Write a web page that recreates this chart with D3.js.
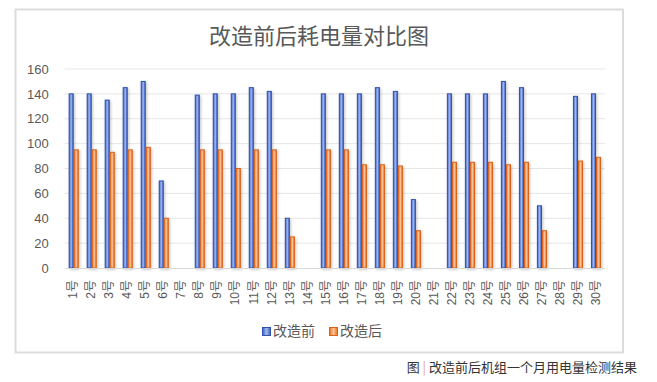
<!DOCTYPE html>
<html>
<head>
<meta charset="utf-8">
<script src="https://cdn.jsdelivr.net/npm/d3@7"></script>
<style>
  body { margin: 0; background: #fff; }
  svg { display: block; }
  text { font-family: "Liberation Sans", "Noto Sans CJK SC", sans-serif; }
</style>
</head>
<body>
<div id="chart"></div>
<script>
let svgWidth = 657;
let svgHeight = 382;

// data
let days = d3.range(1, 31).map(d => d + '号');
let before = [140, 140, 135, 145, 150, 70, 0, 139, 140, 140, 145, 142, 40, 0, 140,
              140, 140, 145, 142, 55, 0, 140, 140, 140, 150, 145, 50, 0, 138, 140];
let after = [95, 95, 93, 95, 97, 40, 0, 95, 95, 80, 95, 95, 25, 0, 95,
             95, 83, 83, 82, 30, 0, 85, 85, 85, 83, 85, 30, 0, 86, 89];
let seriesNames = ['改造前', '改造后'];
let yTicks = [0, 20, 40, 60, 80, 100, 120, 140, 160];

let margin = { top: 69, right: 52, bottom: 114, left: 64.7 };
let width = 605 - margin.left;
let height = 268 - margin.top;

let svg = d3.select('#chart')
  .append('svg')
  .attr('width', svgWidth)
  .attr('height', svgHeight);

// gradients + soft shadow
let defs = svg.append('defs');
let grads = [
  { id: 'gBlue', edge: '#3a5fc4', mid: '#a3b8ea' },
  { id: 'gOrange', edge: '#ec6f1c', mid: '#fbc49a' }
];
grads.forEach(g => {
  let lg = defs.append('linearGradient').attr('id', g.id)
    .attr('x1', '0%').attr('x2', '100%').attr('y1', '0%').attr('y2', '0%');
  lg.append('stop').attr('offset', '0%').attr('stop-color', g.edge);
  lg.append('stop').attr('offset', '50%').attr('stop-color', g.mid);
  lg.append('stop').attr('offset', '100%').attr('stop-color', g.edge);
});
let filt = defs.append('filter').attr('id', 'shadow')
  .attr('x', '-100%').attr('y', '-10%').attr('width', '300%').attr('height', '120%');
filt.append('feGaussianBlur').attr('in', 'SourceAlpha').attr('stdDeviation', 1.5).attr('result', 'b');
filt.append('feOffset').attr('in', 'b').attr('dx', 0.5).attr('dy', 0.5).attr('result', 'o');
filt.append('feComponentTransfer').attr('in', 'o').attr('result', 's')
  .append('feFuncA').attr('type', 'linear').attr('slope', 0.25);
let fm = filt.append('feMerge');
fm.append('feMergeNode').attr('in', 's');
fm.append('feMergeNode').attr('in', 'SourceGraphic');

// frame
svg.append('rect')
  .attr('x', 15.5).attr('y', 9.5)
  .attr('width', 607.5).attr('height', 343)
  .attr('fill', '#fff')
  .attr('stroke', '#dcdcdc')
  .attr('stroke-width', 2);

svg.append('text')
  .attr('x', 319)
  .attr('y', 44)
  .attr('text-anchor', 'middle')
  .attr('font-size', 22)
  .attr('fill', '#595959')
  .style('font-family', '"Noto Sans CJK SC", sans-serif')
  .text('改造前后耗电量对比图');

let chartGroup = svg.append('g')
  .attr('transform', `translate(${margin.left}, ${margin.top})`);

let x0 = d3.scaleBand()
  .domain(days)
  .range([0, width])
  .paddingInner(0.44)
  .paddingOuter(0.22);

let x1 = d3.scaleBand()
  .domain(seriesNames)
  .range([0, x0.bandwidth()]);

let y = d3.scaleLinear()
  .domain([0, 160])
  .range([height, 0]);

// grid
chartGroup.append('g')
  .selectAll('line')
  .data(yTicks.slice(1))
  .enter()
  .append('line')
  .attr('x1', 0).attr('x2', width)
  .attr('y1', d => y(d)).attr('y2', d => y(d))
  .attr('stroke', '#e6e6e6')
  .attr('stroke-width', 1);

// y axis labels
let leftAxis = d3.axisLeft(y).tickValues(yTicks).tickSize(0).tickPadding(16);
chartGroup.append('g')
  .call(leftAxis)
  .call(g => g.select('.domain').remove())
  .call(g => g.selectAll('text').attr('font-size', 13).attr('fill', '#595959')
    .style('font-family', '"Liberation Sans", sans-serif'));

// bars
let rows = days.map((d, i) => ({ day: d, vals: [before[i], after[i]] }));
let colors = ['url(#gBlue)', 'url(#gOrange)'];
let strokes = ['#2f52b0', '#d9621a'];

let dayGroups = chartGroup.selectAll('.day')
  .data(rows)
  .enter()
  .append('g')
  .attr('transform', d => `translate(${x0(d.day)},0)`);

dayGroups.selectAll('rect')
  .data(d => d.vals.map((v, k) => ({ key: seriesNames[k], k: k, v: v })).filter(e => e.v > 0))
  .enter()
  .append('rect')
  .attr('x', d => x1(d.key) + 0.5)
  .attr('y', d => y(d.v))
  .attr('width', x1.bandwidth() - 1)
  .attr('height', d => height - y(d.v))
  .attr('fill', d => colors[d.k])
  .attr('stroke', d => strokes[d.k])
  .attr('stroke-width', 1)
  .attr('filter', 'url(#shadow)');

// baseline
chartGroup.append('line')
  .attr('x1', 0).attr('x2', width)
  .attr('y1', height + 0.5).attr('y2', height + 0.5)
  .attr('stroke', '#d9d9d9');

// x labels, rotated
let bottomAxis = d3.axisBottom(x0).tickSize(0).tickPadding(0);
chartGroup.append('g')
  .attr('transform', `translate(0,${height})`)
  .call(bottomAxis)
  .call(g => g.select('.domain').remove())
  .call(g => g.selectAll('text')
    .attr('font-size', 12)
    .attr('fill', '#595959')
    .attr('text-anchor', 'end')
    .attr('dy', '0.35em')
    .attr('transform', 'translate(-0.5,12) rotate(-90)')
    .attr('y', 0)
    .attr('x', 0));

// legend
let legend = svg.append('g').attr('transform', 'translate(262, 327)');
let legendX = [0, 67];
seriesNames.forEach((name, k) => {
  let item = legend.append('g').attr('transform', `translate(${legendX[k]},0)`);
  item.append('rect')
    .attr('x', 0.5).attr('y', 0.5)
    .attr('width', 8).attr('height', 8)
    .attr('fill', colors[k])
    .attr('stroke', strokes[k]);
  item.append('text')
    .attr('x', 11)
    .attr('y', 9)
    .attr('font-size', 14)
    .attr('fill', '#595959')
    .style('font-family', '"Noto Sans CJK SC", sans-serif')
    .text(name);
});

// caption under the frame
let cap = svg.append('text')
  .attr('x', 637)
  .attr('y', 372)
  .attr('text-anchor', 'end')
  .attr('font-size', 13)
  .style('font-family', '"Noto Sans CJK SC", sans-serif');
cap.append('tspan').attr('fill', '#333').text('图 ');
cap.append('tspan').attr('fill', '#e4a77a').text('|');
cap.append('tspan').attr('fill', '#333').text(' 改造前后机组一个月用电量检测结果');
</script>
</body>
</html>
